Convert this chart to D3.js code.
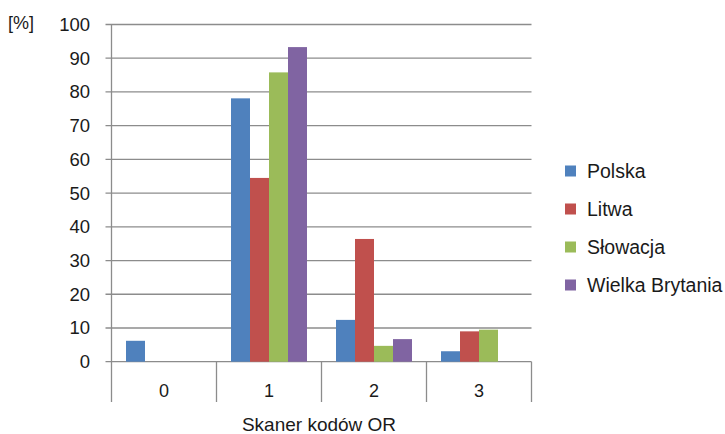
<!DOCTYPE html>
<html><head><meta charset="utf-8">
<script src="https://cdn.jsdelivr.net/npm/d3@7"></script>
<style>body{margin:0;background:#fff}svg{display:block}text{font-family:"Liberation Sans",Arial,sans-serif;fill:#1a1a1a}</style>
</head><body><svg id="c" width="725" height="434"></svg>
<script>
const categories = ["0","1","2","3"];
const seriesNames = ["Polska","Litwa","Słowacja","Wielka Brytania"];
const polska = [6.2, 78.1, 12.4, 3.1];
const litwa = [0, 54.5, 36.4, 9.0];
const slowacja = [0, 85.8, 4.7, 9.5];
const wielkaBrytania = [0, 93.3, 6.7, 0];
const yTicks = [0,10,20,30,40,50,60,70,80,90,100];
const colors = ["#4F81BD","#C0504D","#9BBB59","#8064A2"];
const seriesValues = [polska, litwa, slowacja, wielkaBrytania];

const svg = d3.select("#c");
const L = 111.5, R = 531.5, T = 24.5, B = 361.7;
const x0 = d3.scaleBand().domain(categories).range([L, R]);
const x1 = d3.scaleBand().domain(seriesNames).range([14.5, x0.bandwidth()-14.5]);
const y = d3.scaleLinear().domain([0,100]).range([B, T]);

svg.append("g").selectAll("line").data(yTicks).join("line")
  .attr("x1", L-6).attr("x2", R).attr("y1", d=>y(d)).attr("y2", d=>y(d))
  .attr("stroke", "#8c8c8c").attr("stroke-width", 1.3);
svg.append("line").attr("x1", L).attr("x2", L).attr("y1", T).attr("y2", 402)
  .attr("stroke", "#8c8c8c").attr("stroke-width", 1.3);
const bounds = categories.map(c=>x0(c)).concat([R]);
svg.append("g").selectAll("line").data(bounds.slice(1)).join("line")
  .attr("x1", d=>d).attr("x2", d=>d).attr("y1", B).attr("y2", 402)
  .attr("stroke", "#8c8c8c").attr("stroke-width", 1.3);

const data = [];
categories.forEach((c,i)=>seriesNames.forEach((s,j)=>data.push({c, s, v: seriesValues[j][i], col: colors[j]})));
svg.append("g").selectAll("rect").data(data.filter(d=>d.v>0)).join("rect")
  .attr("x", d=>x0(d.c)+x1(d.s)).attr("width", x1.bandwidth())
  .attr("y", d=>y(d.v)).attr("height", d=>B - y(d.v))
  .attr("fill", d=>d.col);

svg.append("g").selectAll("text").data(yTicks).join("text")
  .attr("x", 90).attr("y", d=>y(d)).attr("dy","0.35em").attr("text-anchor","end")
  .attr("font-size", 18.5).text(d=>d);
svg.append("text").attr("x", 8).attr("y", 29).attr("font-size", 18).text("[%]");
svg.append("g").selectAll("text").data(categories).join("text")
  .attr("x", d=>x0(d)+x0.bandwidth()/2).attr("y", 391).attr("dy","0.35em").attr("text-anchor","middle")
  .attr("font-size", 18).text(d=>d);
svg.append("text").attr("x", 319).attr("y", 431).attr("text-anchor","middle")
  .attr("font-size", 19).text("Skaner kodów OR");

const lg = svg.append("g").selectAll("g").data(seriesNames).join("g")
  .attr("transform", (d,i)=>`translate(565,${171 + i*38})`);
lg.append("rect").attr("x",0).attr("y",-5.5).attr("width",11).attr("height",11).attr("fill",(d,i)=>colors[i]);
lg.append("text").attr("x",22).attr("y",0).attr("dy","0.35em").attr("font-size",19.5).text(d=>d);
</script></body></html>
